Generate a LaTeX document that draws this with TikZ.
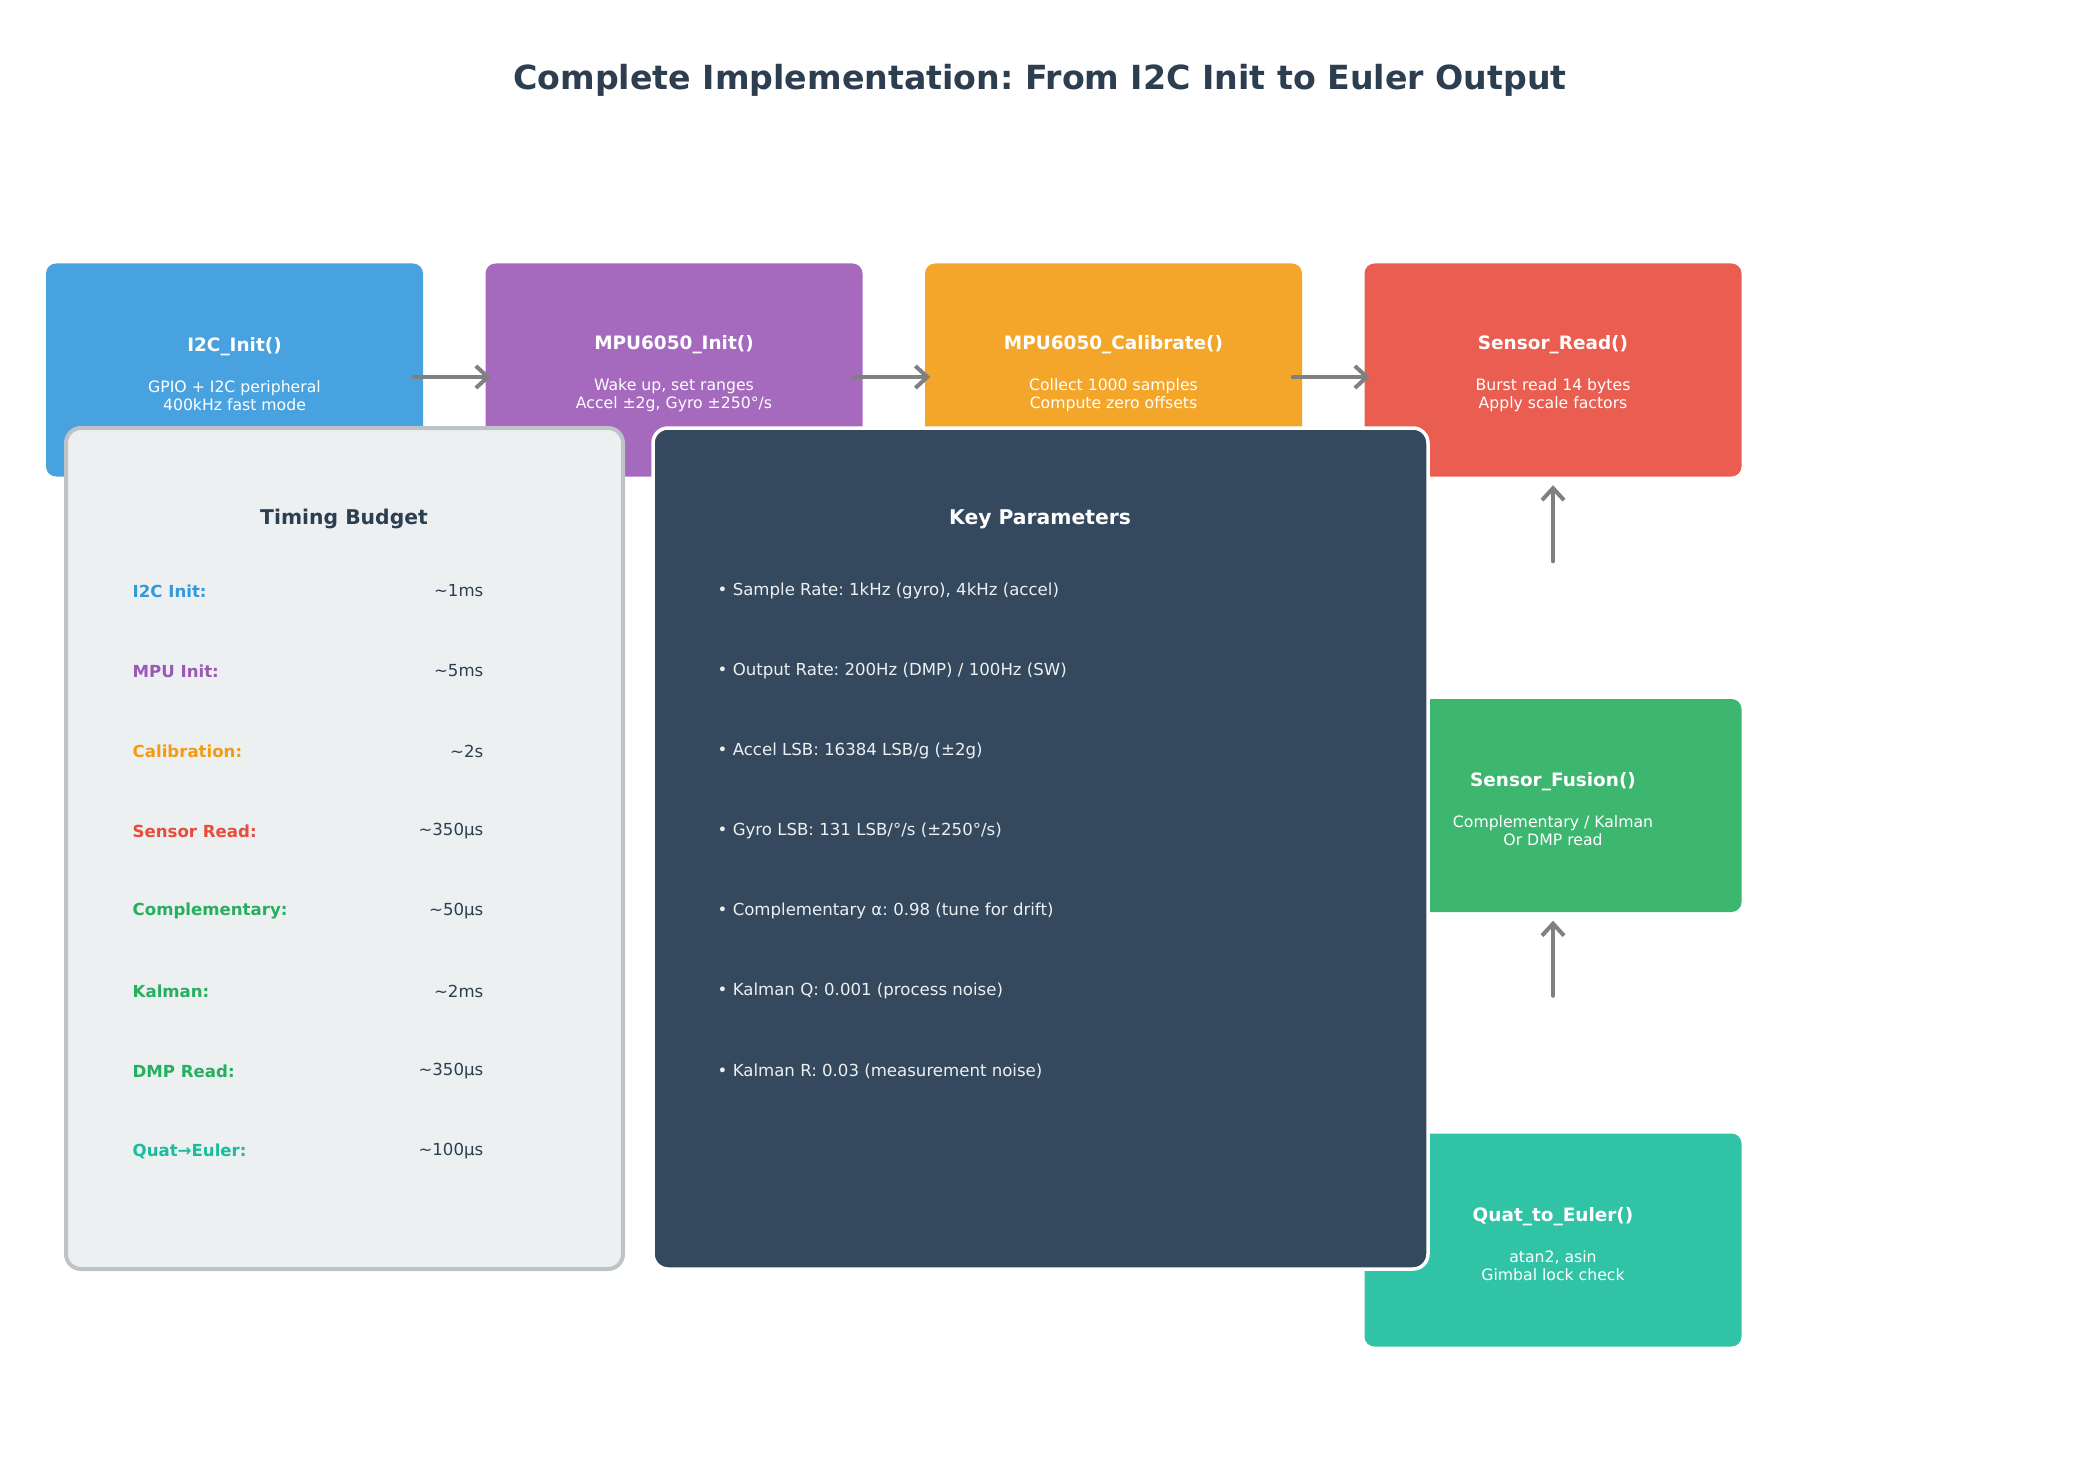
\documentclass[tikz,border=0pt]{standalone}
\usepackage{fontspec}
\setmainfont{DejaVu Sans}
\frenchspacing
\usetikzlibrary{arrows.meta}
\definecolor{headink}{HTML}{2C3E50}
\definecolor{initblue}{HTML}{3498DB}
\definecolor{mpupurple}{HTML}{9B59B6}
\definecolor{calorange}{HTML}{F39C12}
\definecolor{readred}{HTML}{E74C3C}
\definecolor{fusiongreen}{HTML}{27AE60}
\definecolor{eulerteal}{HTML}{1ABC9C}
\definecolor{budgetfill}{HTML}{ECF0F1}
\definecolor{budgetedge}{HTML}{BDC3C7}
\definecolor{paramfill}{HTML}{34495E}
\definecolor{flowgray}{HTML}{808080}

\newcommand{\stagetext}[2]{{\fontsize{5.25}{6}\selectfont\bfseries\rule{0pt}{6.2pt}#1}\\[6.5pt]#2}

\begin{document}
\begin{tikzpicture}[
  x=0.1mm,
  y=-0.1mm,
  stage/.style={rounded corners=1mm,minimum width=37.7mm,minimum height=21.3mm,
    inner sep=0pt,text=white,align=center,font=\fontsize{4.46}{5.12}\selectfont},
  flow/.style={draw=flowgray,line width=0.4mm,line cap=round,
    -{Straight Barb[length=1.2mm,width=2.2mm]}},
  budget/.style={fill=budgetfill,draw=budgetedge,line width=0.4mm,rounded corners=1.5mm,
    minimum width=55.7mm,minimum height=84.1mm},
  params/.style={fill=paramfill,draw=white,line width=0.35mm,rounded corners=1.5mm,
    minimum width=77.5mm,minimum height=84.1mm},
  paneltitle/.style={font=\fontsize{5.78}{7}\selectfont\bfseries},
  rowlabel/.style={anchor=west,inner sep=0pt,font=\fontsize{4.72}{5.6}\selectfont\bfseries},
  rowvalue/.style={anchor=east,inner sep=0pt,text=headink,font=\fontsize{4.72}{5.6}\selectfont},
  bullet/.style={anchor=west,inner sep=0pt,text=budgetfill,font=\fontsize{4.72}{5.6}\selectfont}
]
  \path[fill=white,use as bounding box] (0,0) rectangle (2080,1480);

  \node[text=headink,font=\fontsize{9.45}{11}\selectfont\bfseries] (title) at (1040,80)
    {Complete Implementation: From I2C Init to Euler Output};

  % Pipeline stages.
  \node[stage,fill=initblue!90!white] (i2c) at (234.5,370)
    {\stagetext{I2C\_Init()}{GPIO + I2C peripheral\\400kHz fast mode}};
  \node[stage,fill=mpupurple!90!white] (mpu) at (674,370)
    {\stagetext{MPU6050\_Init()}{Wake up, set ranges\\Accel ±2g, Gyro ±250°/s}};
  \node[stage,fill=calorange!90!white] (calib) at (1113.5,370)
    {\stagetext{MPU6050\_Calibrate()}{Collect 1000 samples\\Compute zero offsets}};
  \node[stage,fill=readred!90!white] (read) at (1553,370)
    {\stagetext{Sensor\_Read()}{Burst read 14 bytes\\Apply scale factors}};
  \node[stage,fill=fusiongreen!90!white] (fusion) at (1553,805.5)
    {\stagetext{Sensor\_Fusion()}{Complementary / Kalman\\Or DMP read}};
  \node[stage,fill=eulerteal!90!white] (euler) at (1553,1240)
    {\stagetext{Quat\_to\_Euler()}{atan2, asin\\Gimbal lock check}};

  % Flow arrows.
  \draw[flow] ([xshift=-1mm,yshift=-0.7mm]i2c.east) -- ([xshift=0.6mm,yshift=-0.7mm]mpu.west);
  \draw[flow] ([xshift=-1mm,yshift=-0.7mm]mpu.east) -- ([xshift=0.6mm,yshift=-0.7mm]calib.west);
  \draw[flow] ([xshift=-1mm,yshift=-0.7mm]calib.east) -- ([xshift=0.6mm,yshift=-0.7mm]read.west);
  \draw[flow] ([yshift=13.7mm]fusion.north) -- ([yshift=-0.8mm]read.south);
  \draw[flow] ([yshift=13.7mm]euler.north) -- ([yshift=-0.8mm]fusion.south);

  % Timing budget panel.
  \node[budget] (budgetbox) at (344.5,848.5) {};
  \node[paneltitle,text=headink] (budgettitle) at (344,519) {Timing Budget};
  \foreach \lab/\val/\col [count=\i from 0] in {
      I2C Init:/\textasciitilde1ms/initblue,
      MPU Init:/\textasciitilde5ms/mpupurple,
      Calibration:/\textasciitilde2s/calorange,
      Sensor Read:/\textasciitilde350µs/readred,
      Complementary:/\textasciitilde50µs/fusiongreen,
      Kalman:/\textasciitilde2ms/fusiongreen,
      DMP Read:/\textasciitilde350µs/fusiongreen,
      Quat→Euler:/\textasciitilde100µs/eulerteal} {
    \node[rowlabel,text=\col] (lab\i) at (132,{591+80*\i}) {\lab};
    \node[rowvalue] (val\i) at (484,{591+80*\i}) {\val};
  }

  % Key parameters panel.
  \node[params] (parambox) at (1040.5,848.5) {};
  \node[paneltitle,text=white] (paramtitle) at (1040,519) {Key Parameters};
  \foreach \txt [count=\i from 0] in {
      {• Sample Rate: 1kHz (gyro), 4kHz (accel)},
      {• Output Rate: 200Hz (DMP) / 100Hz (SW)},
      {• Accel LSB: 16384 LSB/g (±2g)},
      {• Gyro LSB: 131 LSB/°/s (±250°/s)},
      {• Complementary α: 0.98 (tune for drift)},
      {• Kalman Q: 0.001 (process noise)},
      {• Kalman R: 0.03 (measurement noise)}} {
    \node[bullet] (param\i) at (717,{591+80*\i}) {\txt};
  }
\end{tikzpicture}
\end{document}
